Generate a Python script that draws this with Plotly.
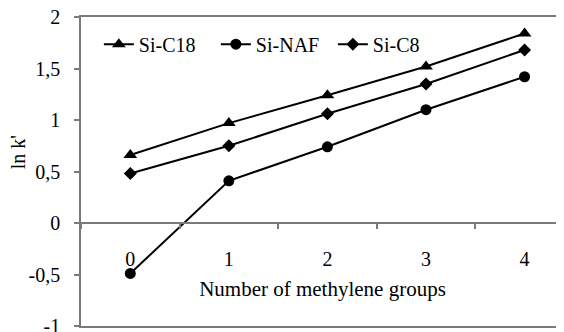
import plotly.graph_objects as go

categories = ["0", "1", "2", "3", "4"]
si_c18 = [0.66, 0.97, 1.24, 1.52, 1.84]
si_naf = [-0.49, 0.41, 0.74, 1.10, 1.42]
si_c8 = [0.48, 0.75, 1.06, 1.35, 1.68]
y_tickvals = [-1, -0.5, 0, 0.5, 1, 1.5, 2]
y_ticktext = ["-1", "-0,5", "0", "0,5", "1", "1,5", "2"]

FONT = "Liberation Serif"
GRAY = "#7a7a7a"

fig = go.Figure()
for name, vals, sym, size in [
    ("Si-C18", si_c18, "triangle-up", 12),
    ("Si-NAF", si_naf, "circle", 11),
    ("Si-C8", si_c8, "diamond", 10),
]:
    fig.add_trace(go.Scatter(
        x=categories, y=vals, name=name, mode="lines+markers",
        line=dict(color="black", width=2),
        marker=dict(symbol=sym, size=size, color="black"),
    ))
# empty trace so the frame axis (x2) is rendered; it draws no marks
fig.add_trace(go.Scatter(x=[], y=[], xaxis="x2", yaxis="y", showlegend=False,
                         hoverinfo="skip"))

ymin, ymax = y_tickvals[0], y_tickvals[-1]
# the page body has an 8px margin, so the figure is sized to fit inside it
fig.update_layout(
    width=556, height=324,
    margin=dict(l=73, r=0, t=9, b=6),
    paper_bgcolor="white", plot_bgcolor="white",
    font=dict(family=FONT, size=20, color="black"),
    showlegend=True,
    legend=dict(orientation="h", x=0.037, y=0.975, xanchor="left", yanchor="top",
                bgcolor="rgba(0,0,0,0)", font=dict(family=FONT, size=20),
                entrywidth=72, itemwidth=30),
    xaxis=dict(
        type="category", range=[-0.5, 4.4],
        anchor="free", position=(0 - ymin) / (ymax - ymin),
        showline=True, linecolor=GRAY, linewidth=1.5,
        ticks="outside", ticklen=5, tickcolor=GRAY, tickwidth=1.5,
        tickson="boundaries", showgrid=False, zeroline=False,
        ticklabelstandoff=18, tickfont=dict(family=FONT, size=20),
        title=dict(text="Number of methylene groups", standoff=12,
                   font=dict(family=FONT, size=21)),
        automargin=False,
    ),
    xaxis2=dict(
        overlaying="x", anchor="y", side="bottom", range=[0, 1],
        showline=True, mirror=True, linecolor=GRAY, linewidth=2,
        showticklabels=False, ticks="", showgrid=False, zeroline=False,
        automargin=False,
    ),
    yaxis=dict(
        range=[ymin, ymax], tickvals=y_tickvals, ticktext=y_ticktext,
        showline=True, linecolor=GRAY, linewidth=1.5,
        ticks="outside", ticklen=5, tickcolor=GRAY, tickwidth=1.5,
        showgrid=False, zeroline=False, ticklabelstandoff=10,
        tickfont=dict(family=FONT, size=20), ticklabeloverflow="allow",
        automargin=False,
    ),
    annotations=[
        dict(text="ln k'", textangle=-90, xref="paper", yref="paper",
             x=-0.13, y=0.563, xanchor="center", yanchor="middle",
             showarrow=False, font=dict(family=FONT, size=20)),
    ],
)

fig.write_html("out.html")
